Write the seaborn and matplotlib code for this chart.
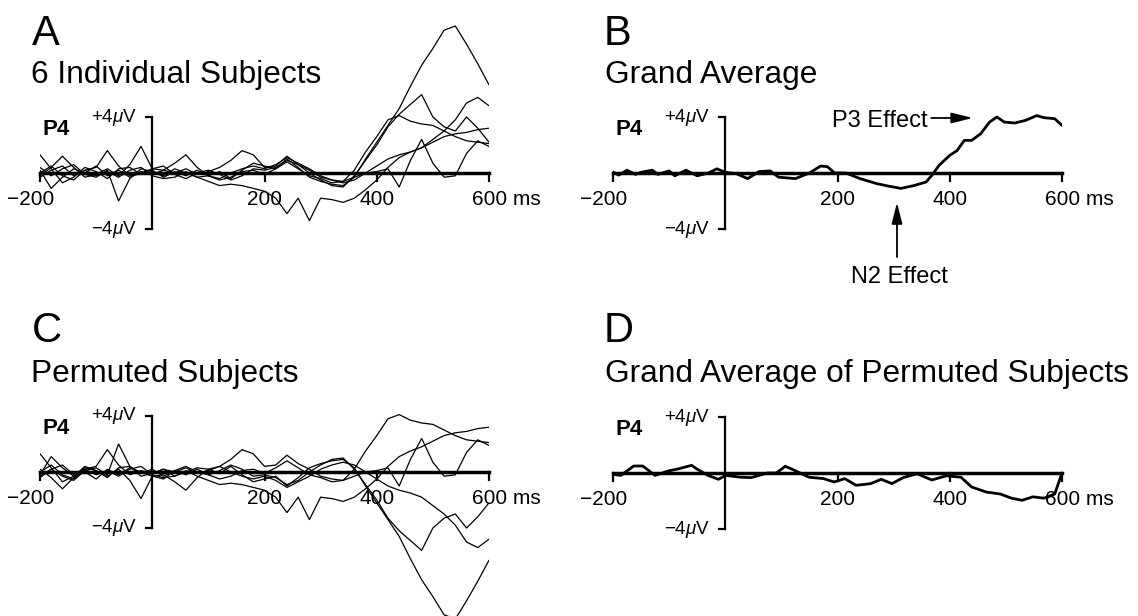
import numpy as np
import pandas as pd
import matplotlib
matplotlib.use("Agg")
import matplotlib.pyplot as plt
import seaborn as sns

sns.set_theme(style="white")
plt.rcParams["font.family"] = ["Liberation Sans", "DejaVu Sans"]
plt.rcParams["mathtext.fontset"] = "custom"
plt.rcParams["mathtext.it"] = "Liberation Sans:italic"
plt.rcParams["mathtext.rm"] = "Liberation Sans"
plt.rcParams["text.color"] = "black"

W, H, dpi = 1138, 616, 100

# time grid (ms) for the single-subject waveforms
times = np.arange(-200, 601, 20)

# P4 difference waves of the 6 subjects (uV)
subj1 = [0.4, -0.2, 0.3, 0.6, -0.1, -0.3, 0.2, -2.0, -0.4, 0.3, 0.1, -0.2, 0.3, 0.0, -0.3, -0.2, 0.1, -0.4, 0.2, 0.7,
         0.5, 0.3, 1.0, 0.4, -0.3, -0.6, -0.8, -0.9, -0.3, 1.0, 2.2, 3.4, 4.6, 6.2, 7.7, 8.9, 10.2, 10.5, 9.2, 7.8, 6.3]
subj2 = [0.2, -1.1, -0.3, 0.3, 0.0, 0.5, -0.2, 0.2, -0.3, 0.0, 0.3, 0.5, -0.1, -0.4, 0.0, 0.2, -0.1, -0.5, -0.2, 0.3,
         0.2, 0.4, 0.9, 0.6, 0.0, -0.5, -0.9, -1.0, -0.2, 0.9, 2.0, 3.3, 4.2, 4.9, 5.6, 4.0, 3.3, 3.0, 4.0, 3.2, 2.2]
subj3 = [-0.3, 0.2, 0.5, -0.2, 0.2, 0.4, 1.6, 0.5, -0.2, 0.1, -0.1, 0.2, 0.0, 0.3, -0.1, 0.1, 0.4, 0.9, 1.6, 1.3,
         0.4, 0.5, 1.2, 0.6, 0.2, -0.3, -0.5, -0.6, 0.2, 1.5, 2.6, 3.8, 4.1, 3.7, 3.5, 3.4, 3.0, 2.6, 2.3, 2.2, 2.1]
subj4 = [1.3, 0.3, -0.7, -0.3, 0.4, 0.1, -0.4, 0.3, 0.4, -0.1, 0.2, -0.3, 0.1, -0.2, 0.2, -0.2, -0.5, -0.3, 0.1, 0.2,
         -0.1, 0.3, 0.8, 0.3, -0.2, -0.4, -0.7, -0.6, -0.3, 0.0, 0.1, 0.3, -1.0, 0.9, 2.4, 0.7, -0.3, -0.2, 1.4, 2.3, 1.9]
subj5 = [-0.2, 0.4, 1.2, 0.4, -0.3, -0.1, 0.3, -0.2, 0.6, 1.9, 0.3, 0.2, 0.7, 1.3, 0.4, -0.2, -0.4, 0.0, 0.3, 0.5,
         0.3, 0.6, 1.1, 0.7, 0.3, -0.2, -0.5, -0.7, -0.5, 0.0, 0.5, 1.0, 1.3, 1.5, 1.8, 2.4, 3.0, 3.8, 5.0, 5.4, 4.8]
subj6 = [0.0, 0.5, -0.2, -0.5, 0.2, -0.2, 0.1, -0.3, 0.2, 0.4, -0.2, -0.4, -0.3, 0.1, -0.3, -0.6, -0.9, -0.8, -0.9, -1.1,
         -1.3, -1.8, -2.9, -1.8, -3.4, -1.8, -1.9, -2.1, -1.8, -1.2, -0.5, 0.4, 1.1, 1.5, 1.8, 2.2, 2.6, 2.8, 2.9, 3.1, 3.2]
subjects = [subj1, subj2, subj3, subj4, subj5, subj6]

# sign of each subject in the permuted set (panel C)
perm_sign = [-1, -1, 1, 1, -1, 1]

grand_t = [-200, -190, -175, -160, -150, -130, -120, -100, -90, -70, -50, -30, -15, 0, 20, 40, 60, 80, 95, 125,
           150, 170, 182, 195, 215, 240, 270, 290, 313, 336, 358, 368, 381, 400, 413, 426, 439, 455, 471, 484,
           497, 516, 535, 555, 568, 587, 600]
grand_uv = [0.07, -0.15, 0.2, -0.1, 0.05, 0.2, -0.1, 0.15, -0.2, 0.2, -0.2, 0.0, 0.3, 0.05, -0.05, -0.4, 0.1, 0.15, -0.3, -0.4,
            0.0, 0.5, 0.45, 0.0, 0.0, -0.4, -0.76, -0.93, -1.1, -0.9, -0.64, -0.17, 0.55, 1.26, 1.6, 2.33, 2.33, 2.8, 3.64, 4.0,
            3.64, 3.57, 3.76, 4.1, 3.95, 3.88, 3.4]
perm_t = [-200, -186, -163, -147, -125, -102, -83, -60, -51, -31, -12, 1, 27, 46, 75, 91, 107, 123, 149, 175,
          194, 213, 233, 259, 278, 297, 317, 342, 368, 394, 420, 439, 465, 490, 510, 529, 548, 568, 587, 600]
perm_uv = [-0.1, -0.17, 0.5, 0.5, -0.17, 0.14, 0.3, 0.55, 0.3, -0.17, -0.45, -0.17, -0.3, -0.33, 0.0, 0.0, 0.48, 0.2, -0.3, -0.4,
           -0.64, -0.4, -0.88, -0.76, -0.45, -0.76, -0.33, -0.05, -0.5, -0.2, -0.3, -1.0, -1.36, -1.5, -1.8, -1.95, -1.7, -1.8, -1.5, 0.0]

fig = plt.figure(figsize=(W / dpi, H / dpi), dpi=dpi)

# 800 ms span = 449 px, 1 uV = 14 px
def panel(x0, y0):
  ax = fig.add_axes([x0 / W, 1 - (y0 + 168) / H, 449 / W, 336 / H])
  ax.set_xlim(-200, 600)
  ax.set_ylim(-12, 12)
  return ax

def frame(ax):
  k = dict(color="black", clip_on=False, solid_capstyle="projecting")
  ax.plot([-200, 600], [0, 0], lw=2.5, **k)
  ax.plot([0, 0], [-4, 4], lw=1.6, **k)
  for v in (4, -4):
    ax.plot([-11, 0], [v, v], lw=1.6, **k)
  for t in (-200, 200, 400, 600):
    ax.plot([t, t], [0, -0.6], lw=1.6, **k)
  ax.text(-174, -2.3, "\u2212200", ha="right", va="baseline", fontsize=15)
  ax.text(200, -2.3, "200", ha="center", va="baseline", fontsize=15)
  ax.text(400, -2.3, "400", ha="center", va="baseline", fontsize=15)
  ax.text(569, -2.3, "600 ms", ha="left", va="baseline", fontsize=15)
  ax.text(-27, 4, r"+4$\mu$V", ha="right", va="center", fontsize=13.5)
  ax.text(-27, -4, "\u22124$\\mu$V", ha="right", va="center", fontsize=13.5)
  ax.text(-196, 2.7, "P4", ha="left", va="baseline", fontsize=16, fontweight="bold")
  ax.axis("off")

def waves(ax, signs):
  df = pd.DataFrame({
    "time": np.tile(times, len(subjects)),
    "uv": np.concatenate([s * np.array(v) for s, v in zip(signs, subjects)]),
    "subject": np.repeat(np.arange(len(subjects)), len(times)),
  })
  sns.lineplot(data=df, x="time", y="uv", units="subject", estimator=None, color="black",
               linewidth=0.9, sort=False, legend=False, ax=ax)

axA = panel(40, 173)
waves(axA, [1] * 6)
frame(axA)

axB = panel(613, 173)
sns.lineplot(x=grand_t, y=grand_uv, color="black", linewidth=2.0, ax=axB)
frame(axB)
axB.annotate("", xy=(441, 3.93), xytext=(367, 3.93),
             arrowprops=dict(arrowstyle="-|>,head_length=0.8,head_width=0.2", color="black", lw=1.3,
                             shrinkA=0, shrinkB=0, mutation_scale=16))
axB.text(360, 3.3, "P3 Effect", ha="right", va="baseline", fontsize=17)
axB.annotate("", xy=(306, -2.1), xytext=(306, -6.0),
             arrowprops=dict(arrowstyle="-|>,head_length=0.8,head_width=0.2", color="black", lw=1.3,
                             shrinkA=0, shrinkB=0, mutation_scale=16))
axB.text(310, -7.85, "N2 Effect", ha="center", va="baseline", fontsize=17)

axC = panel(40, 472)
waves(axC, perm_sign)
frame(axC)

axD = panel(613, 473)
sns.lineplot(x=perm_t, y=perm_uv, color="black", linewidth=2.0, ax=axD)
frame(axD)

for x, y, s in [(32, 45, "A"), (604, 45, "B"), (32, 342, "C"), (604, 342, "D")]:
  fig.text(x / W, 1 - y / H, s, fontsize=30, va="baseline")
for x, y, s in [(31, 83, "6 Individual Subjects"), (605, 83, "Grand Average"),
                (31, 382, "Permuted Subjects"), (605, 382, "Grand Average of Permuted Subjects")]:
  fig.text(x / W, 1 - y / H, s, fontsize=22.8, va="baseline")

fig.savefig("out.png", dpi=dpi)
